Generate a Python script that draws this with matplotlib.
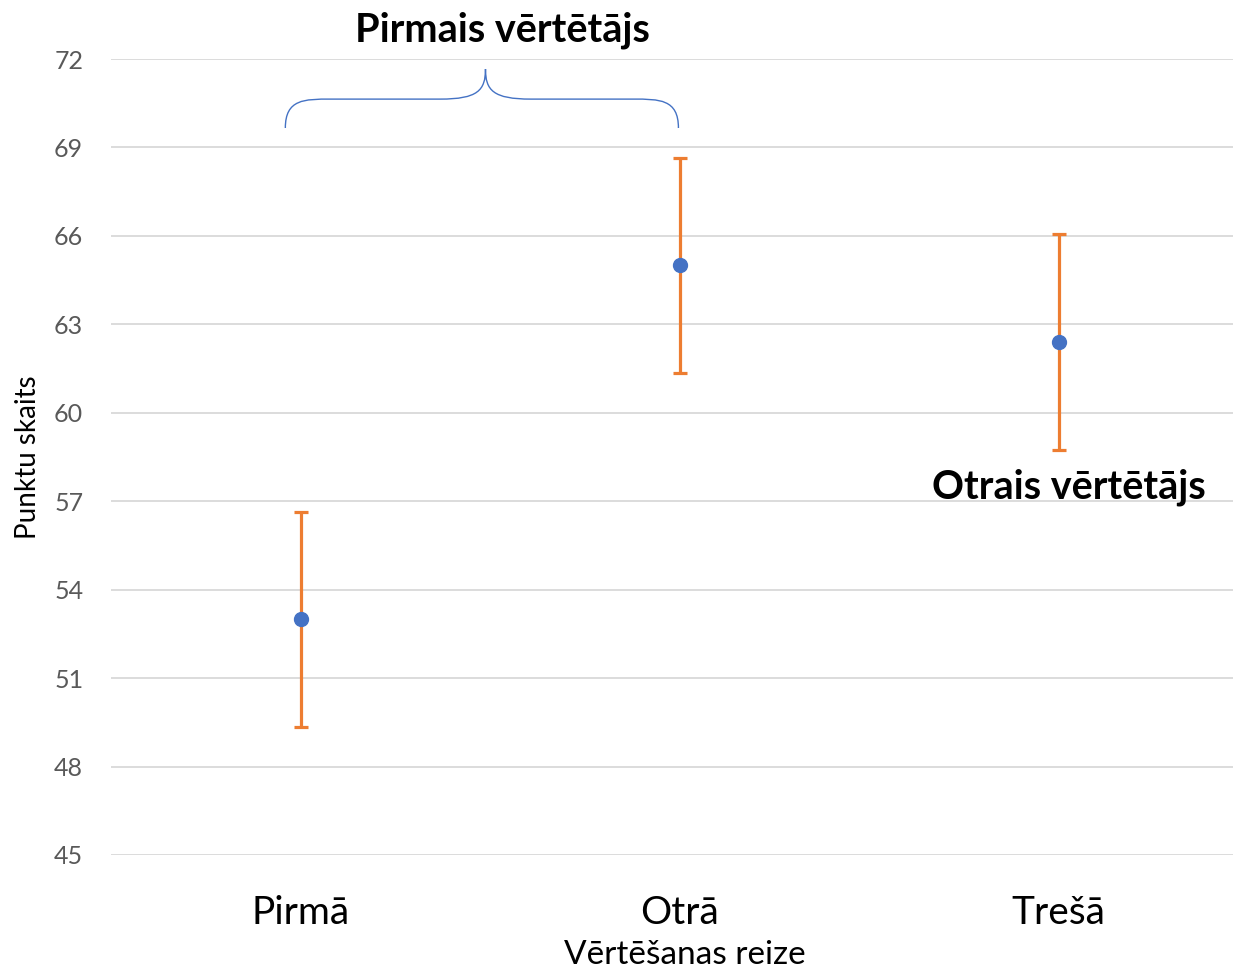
import numpy as np
import matplotlib.pyplot as plt
from matplotlib.path import Path
from matplotlib.patches import PathPatch

plt.rcParams['font.family'] = ['Lato', 'DejaVu Sans']

# data
categories = ['Pirmā', 'Otrā', 'Trešā']
means = [53.0, 65.0, 62.4]
errors = [3.65, 3.65, 3.65]
y_ticks = [45, 48, 51, 54, 57, 60, 63, 66, 69, 72]

fig = plt.figure(figsize=(12.33, 9.69), dpi=100)
ax = fig.add_axes([0.09, 0.1177, 0.91, 0.8214])

x = np.arange(len(categories))
ax.errorbar(x, means, yerr=errors, fmt='none', ecolor='#ED7D31',
            elinewidth=2.3, capsize=5, capthick=2.3, zorder=3)
ax.plot(x, means, 'o', color='#4472C4', markersize=10, zorder=4)

ax.set_ylim(45, 72)
ax.set_yticks(y_ticks)
ax.set_xlim(-0.5, 2.46)
ax.set_xticks(x)
ax.set_xticklabels(categories, fontsize=28)
ax.tick_params(axis='x', length=0, pad=29, labelcolor='black')
ax.tick_params(axis='y', length=0, pad=20, labelsize=18, labelcolor='#595959')
ax.grid(axis='y', color='#D9D9D9', linewidth=1.3)
ax.set_axisbelow(True)
for s in ax.spines.values():
    s.set_visible(False)

ax.set_ylabel('Punktu skaits', fontsize=20)
ax.yaxis.set_label_coords(-0.062, 0.5)
ax.set_xlabel('Vērtēšanas reize', fontsize=24)
ax.xaxis.set_label_coords((685 - 111) / 1122, -0.107)

# curly brace over the first two points
xl, xr, xm = -0.04, 0.997, 0.488
yb, ymid, yt = 69.66, 70.64, 71.66
verts = [(xl, yb), (xl, ymid), (xl + 0.05, ymid), (xl + 0.12, ymid),
         (xm - 0.12, ymid),
         (xm - 0.02, ymid), (xm, ymid + 0.3), (xm, yt),
         (xm, ymid + 0.3), (xm + 0.02, ymid), (xm + 0.12, ymid),
         (xr - 0.12, ymid),
         (xr - 0.05, ymid), (xr, ymid), (xr, yb)]
codes = [Path.MOVETO, Path.CURVE4, Path.CURVE4, Path.CURVE4,
         Path.LINETO,
         Path.CURVE4, Path.CURVE4, Path.CURVE4,
         Path.CURVE4, Path.CURVE4, Path.CURVE4,
         Path.LINETO,
         Path.CURVE4, Path.CURVE4, Path.CURVE4]
ax.add_patch(PathPatch(Path(verts, codes), facecolor='none',
                       edgecolor='#4472C4', linewidth=1.0, clip_on=False))

ax.text(0.533, 72.98, 'Pirmais vērtētājs', fontsize=28.5, fontweight='bold',
        ha='center', va='center')
ax.text(2.026, 57.48, 'Otrais vērtētājs', fontsize=28.5, fontweight='bold',
        ha='center', va='center')

fig.savefig('out.png', dpi=100)
